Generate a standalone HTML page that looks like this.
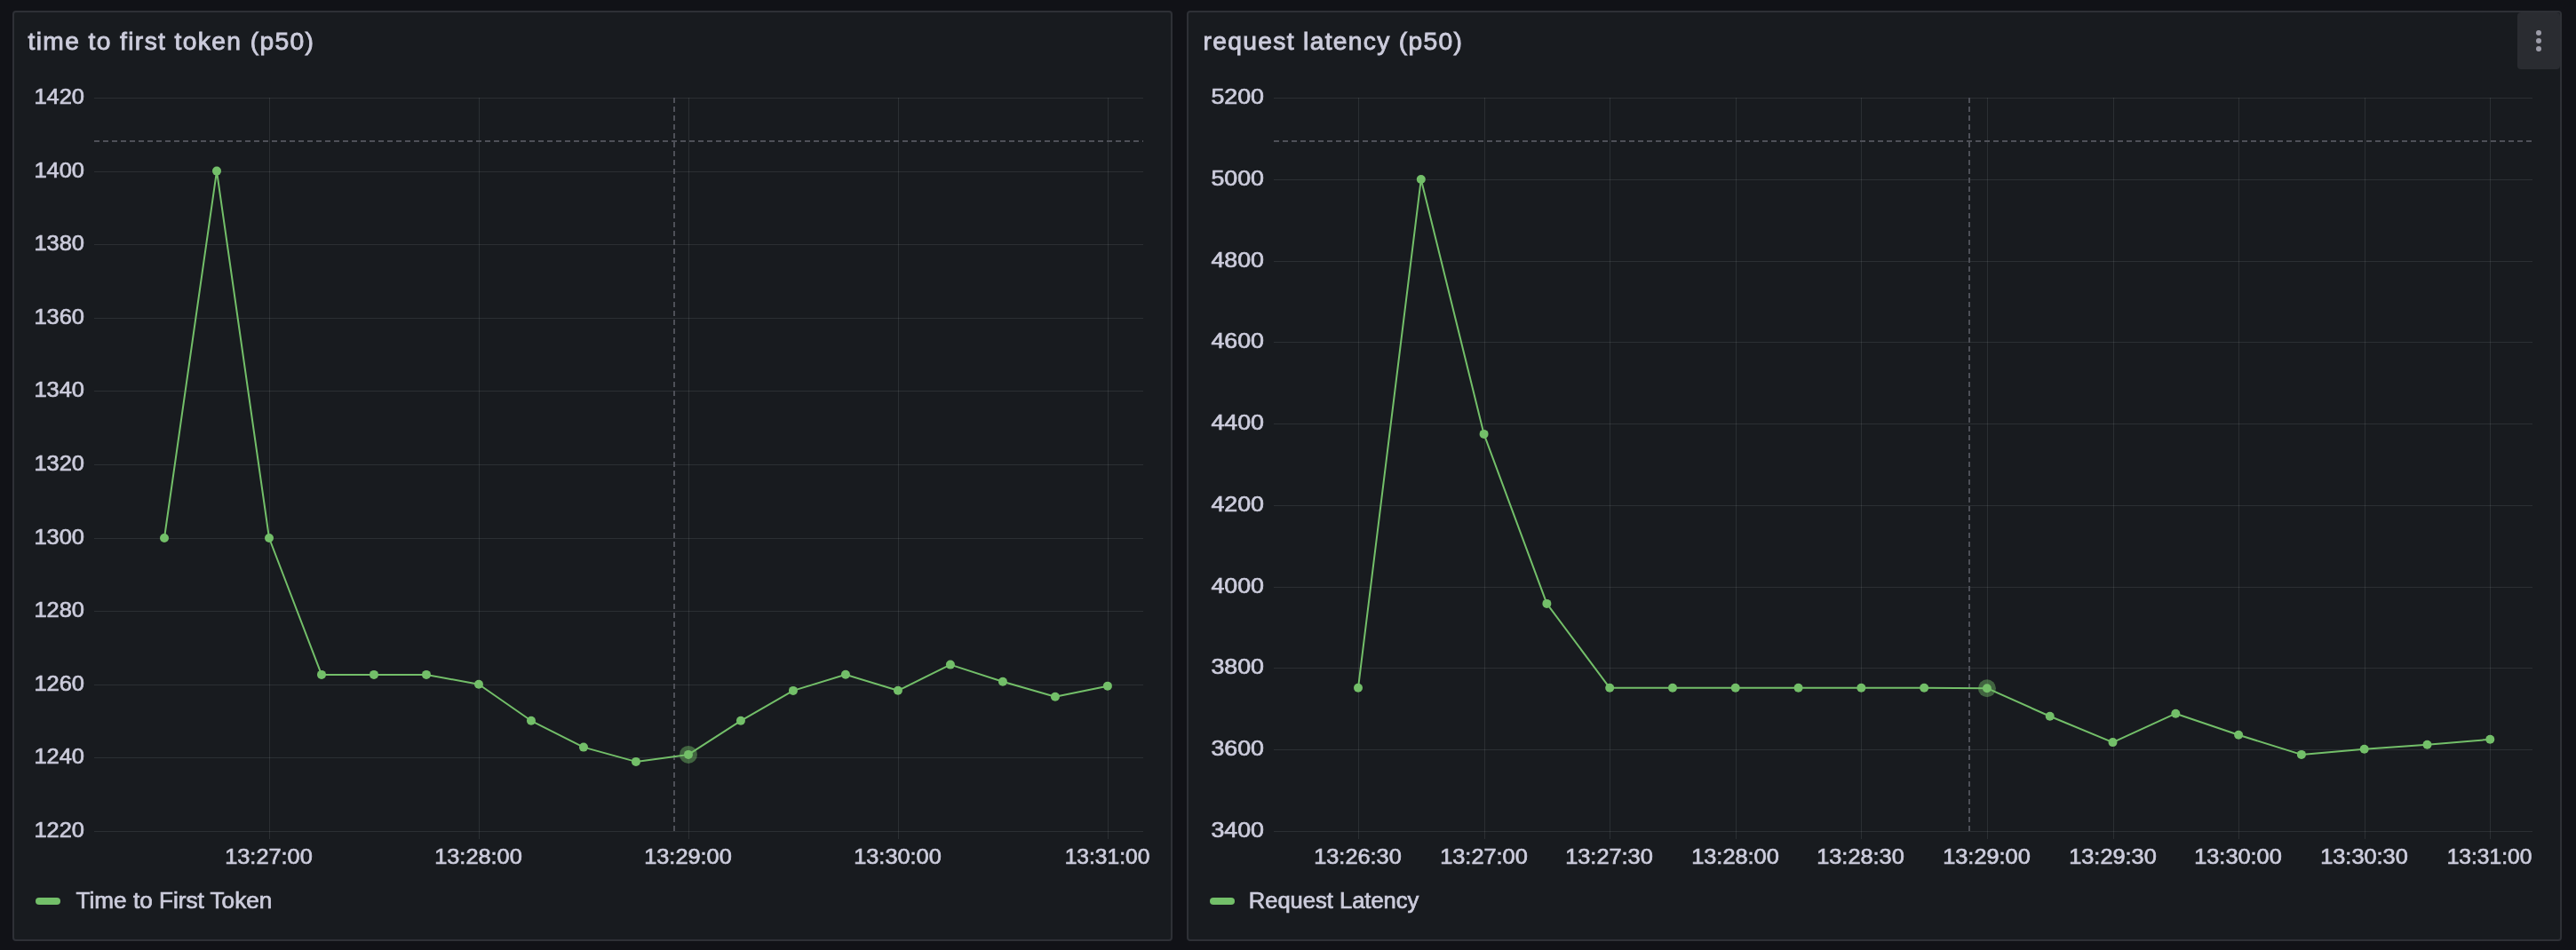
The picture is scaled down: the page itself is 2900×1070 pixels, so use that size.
<!DOCTYPE html><html><head><meta charset="utf-8"><style>
html,body{margin:0;padding:0;background:#111217;width:2900px;height:1070px;overflow:hidden;}
.p{position:absolute;box-sizing:border-box;background:#181b1f;border:2px solid #2e3036;border-radius:4px;}
svg{position:absolute;left:0;top:0;will-change:transform;}
text{font-family:"Liberation Sans", sans-serif;fill:#ccccdc;}
.ax{stroke:#ccccdc;stroke-width:0.7px;}
.tt{stroke:#ccccdc;stroke-width:0.9px;}
.menu{position:absolute;left:2834px;top:14px;width:48px;height:64px;background:#2a2c31;border-radius:4px;}
.dot{position:absolute;left:21px;width:6px;height:6px;border-radius:3px;background:#9c9ca8;}
</style></head><body>
<div class="p" style="left:14px;top:12px;width:1306px;height:1048px"></div>
<div class="p" style="left:1336px;top:12px;width:1548px;height:1048px"></div>
<div class="menu"><div class="dot" style="top:20px"></div><div class="dot" style="top:29px"></div><div class="dot" style="top:38px"></div></div>
<svg width="2900" height="1070" viewBox="0 0 2900 1070">
<path d="M106 110.5 H1287 M106 193.5 H1287 M106 275.5 H1287 M106 358.5 H1287 M106 440.5 H1287 M106 523.5 H1287 M106 606.5 H1287 M106 688.5 H1287 M106 771.5 H1287 M106 853.5 H1287 M106 936.5 H1287" stroke="rgba(240,250,255,0.09)" stroke-width="1" fill="none" shape-rendering="crispEdges"/>
<path d="M303.5 110 V945 M539.5 110 V945 M775.5 110 V945 M1011.5 110 V945 M1247.5 110 V945" stroke="rgba(240,250,255,0.09)" stroke-width="1" fill="none" shape-rendering="crispEdges"/>
<text class="ax" x="95" y="117.3" font-size="24.6" text-anchor="end" textLength="56.6" lengthAdjust="spacingAndGlyphs">1420</text>
<text class="ax" x="95" y="200.3" font-size="24.6" text-anchor="end" textLength="56.6" lengthAdjust="spacingAndGlyphs">1400</text>
<text class="ax" x="95" y="282.3" font-size="24.6" text-anchor="end" textLength="56.6" lengthAdjust="spacingAndGlyphs">1380</text>
<text class="ax" x="95" y="365.3" font-size="24.6" text-anchor="end" textLength="56.6" lengthAdjust="spacingAndGlyphs">1360</text>
<text class="ax" x="95" y="447.3" font-size="24.6" text-anchor="end" textLength="56.6" lengthAdjust="spacingAndGlyphs">1340</text>
<text class="ax" x="95" y="530.3" font-size="24.6" text-anchor="end" textLength="56.6" lengthAdjust="spacingAndGlyphs">1320</text>
<text class="ax" x="95" y="613.3" font-size="24.6" text-anchor="end" textLength="56.6" lengthAdjust="spacingAndGlyphs">1300</text>
<text class="ax" x="95" y="695.3" font-size="24.6" text-anchor="end" textLength="56.6" lengthAdjust="spacingAndGlyphs">1280</text>
<text class="ax" x="95" y="778.3" font-size="24.6" text-anchor="end" textLength="56.6" lengthAdjust="spacingAndGlyphs">1260</text>
<text class="ax" x="95" y="860.3" font-size="24.6" text-anchor="end" textLength="56.6" lengthAdjust="spacingAndGlyphs">1240</text>
<text class="ax" x="95" y="943.3" font-size="24.6" text-anchor="end" textLength="56.6" lengthAdjust="spacingAndGlyphs">1220</text>
<text class="ax" x="302.5" y="973" font-size="24.6" text-anchor="middle" textLength="98.6" lengthAdjust="spacingAndGlyphs">13:27:00</text>
<text class="ax" x="538.5" y="973" font-size="24.6" text-anchor="middle" textLength="98.6" lengthAdjust="spacingAndGlyphs">13:28:00</text>
<text class="ax" x="774.5" y="973" font-size="24.6" text-anchor="middle" textLength="98.6" lengthAdjust="spacingAndGlyphs">13:29:00</text>
<text class="ax" x="1010.5" y="973" font-size="24.6" text-anchor="middle" textLength="98.6" lengthAdjust="spacingAndGlyphs">13:30:00</text>
<text class="ax" x="1246.5" y="973" font-size="24.6" text-anchor="middle" textLength="95.6" lengthAdjust="spacingAndGlyphs">13:31:00</text>
<path d="M106 159 H1287" stroke="#4e5058" stroke-width="2" stroke-dasharray="6 4" fill="none"/>
<path d="M759 110 V936" stroke="#4e5058" stroke-width="2" stroke-dasharray="6 4" fill="none"/>
<path d="M185 606 L244 192.6 L302.99 606 L361.99 759.9 L420.98 759.9 L479.97 759.9 L538.97 770.8 L597.96 811.8 L656.96 841.6 L715.95 857.9 L774.95 849.9 L833.94 811.8 L892.94 777.9 L951.93 759.8 L1010.93 777.8 L1069.92 748.6 L1128.92 767.8 L1187.91 784.7 L1246.91 772.65" stroke="#73bf69" stroke-width="2" fill="none" stroke-linejoin="round"/>
<circle cx="185" cy="606" r="5" fill="#73bf69"/>
<circle cx="244" cy="192.6" r="5" fill="#73bf69"/>
<circle cx="302.99" cy="606" r="5" fill="#73bf69"/>
<circle cx="361.99" cy="759.9" r="5" fill="#73bf69"/>
<circle cx="420.98" cy="759.9" r="5" fill="#73bf69"/>
<circle cx="479.97" cy="759.9" r="5" fill="#73bf69"/>
<circle cx="538.97" cy="770.8" r="5" fill="#73bf69"/>
<circle cx="597.96" cy="811.8" r="5" fill="#73bf69"/>
<circle cx="656.96" cy="841.6" r="5" fill="#73bf69"/>
<circle cx="715.95" cy="857.9" r="5" fill="#73bf69"/>
<circle cx="774.95" cy="849.9" r="5" fill="#73bf69"/>
<circle cx="833.94" cy="811.8" r="5" fill="#73bf69"/>
<circle cx="892.94" cy="777.9" r="5" fill="#73bf69"/>
<circle cx="951.93" cy="759.8" r="5" fill="#73bf69"/>
<circle cx="1010.93" cy="777.8" r="5" fill="#73bf69"/>
<circle cx="1069.92" cy="748.6" r="5" fill="#73bf69"/>
<circle cx="1128.92" cy="767.8" r="5" fill="#73bf69"/>
<circle cx="1187.91" cy="784.7" r="5" fill="#73bf69"/>
<circle cx="1246.91" cy="772.65" r="5" fill="#73bf69"/>
<circle cx="774.95" cy="849.9" r="10" fill="#73bf69" fill-opacity="0.45"/>
<rect x="40" y="1011" width="28" height="8" rx="4" fill="#73bf69"/>
<text class="ax" x="85.5" y="1022.9" font-size="25" textLength="220.8" lengthAdjust="spacingAndGlyphs">Time to First Token</text>
<path d="M1434 110.5 H2851 M1434 202.5 H2851 M1434 294.5 H2851 M1434 385.5 H2851 M1434 477.5 H2851 M1434 569.5 H2851 M1434 661.5 H2851 M1434 752.5 H2851 M1434 844.5 H2851 M1434 936.5 H2851" stroke="rgba(240,250,255,0.09)" stroke-width="1" fill="none" shape-rendering="crispEdges"/>
<path d="M1529.5 110 V945 M1671.5 110 V945 M1812.5 110 V945 M1954.5 110 V945 M2095.5 110 V945 M2237.5 110 V945 M2379.5 110 V945 M2520.5 110 V945 M2662.5 110 V945 M2803.5 110 V945" stroke="rgba(240,250,255,0.09)" stroke-width="1" fill="none" shape-rendering="crispEdges"/>
<text class="ax" x="1423" y="117.3" font-size="24.6" text-anchor="end" textLength="59.6" lengthAdjust="spacingAndGlyphs">5200</text>
<text class="ax" x="1423" y="209.3" font-size="24.6" text-anchor="end" textLength="59.6" lengthAdjust="spacingAndGlyphs">5000</text>
<text class="ax" x="1423" y="301.3" font-size="24.6" text-anchor="end" textLength="59.6" lengthAdjust="spacingAndGlyphs">4800</text>
<text class="ax" x="1423" y="392.3" font-size="24.6" text-anchor="end" textLength="59.6" lengthAdjust="spacingAndGlyphs">4600</text>
<text class="ax" x="1423" y="484.3" font-size="24.6" text-anchor="end" textLength="59.6" lengthAdjust="spacingAndGlyphs">4400</text>
<text class="ax" x="1423" y="576.3" font-size="24.6" text-anchor="end" textLength="59.6" lengthAdjust="spacingAndGlyphs">4200</text>
<text class="ax" x="1423" y="668.3" font-size="24.6" text-anchor="end" textLength="59.6" lengthAdjust="spacingAndGlyphs">4000</text>
<text class="ax" x="1423" y="759.3" font-size="24.6" text-anchor="end" textLength="59.6" lengthAdjust="spacingAndGlyphs">3800</text>
<text class="ax" x="1423" y="851.3" font-size="24.6" text-anchor="end" textLength="59.6" lengthAdjust="spacingAndGlyphs">3600</text>
<text class="ax" x="1423" y="943.3" font-size="24.6" text-anchor="end" textLength="59.6" lengthAdjust="spacingAndGlyphs">3400</text>
<text class="ax" x="1528.5" y="973" font-size="24.6" text-anchor="middle" textLength="98.6" lengthAdjust="spacingAndGlyphs">13:26:30</text>
<text class="ax" x="1670.5" y="973" font-size="24.6" text-anchor="middle" textLength="98.6" lengthAdjust="spacingAndGlyphs">13:27:00</text>
<text class="ax" x="1811.5" y="973" font-size="24.6" text-anchor="middle" textLength="98.6" lengthAdjust="spacingAndGlyphs">13:27:30</text>
<text class="ax" x="1953.5" y="973" font-size="24.6" text-anchor="middle" textLength="98.6" lengthAdjust="spacingAndGlyphs">13:28:00</text>
<text class="ax" x="2094.5" y="973" font-size="24.6" text-anchor="middle" textLength="98.6" lengthAdjust="spacingAndGlyphs">13:28:30</text>
<text class="ax" x="2236.5" y="973" font-size="24.6" text-anchor="middle" textLength="98.6" lengthAdjust="spacingAndGlyphs">13:29:00</text>
<text class="ax" x="2378.5" y="973" font-size="24.6" text-anchor="middle" textLength="98.6" lengthAdjust="spacingAndGlyphs">13:29:30</text>
<text class="ax" x="2519.5" y="973" font-size="24.6" text-anchor="middle" textLength="98.6" lengthAdjust="spacingAndGlyphs">13:30:00</text>
<text class="ax" x="2661.5" y="973" font-size="24.6" text-anchor="middle" textLength="98.6" lengthAdjust="spacingAndGlyphs">13:30:30</text>
<text class="ax" x="2802.5" y="973" font-size="24.6" text-anchor="middle" textLength="95.6" lengthAdjust="spacingAndGlyphs">13:31:00</text>
<path d="M1434 159 H2851" stroke="#4e5058" stroke-width="2" stroke-dasharray="6 4" fill="none"/>
<path d="M2217 110 V936" stroke="#4e5058" stroke-width="2" stroke-dasharray="6 4" fill="none"/>
<path d="M1529 774.8 L1599.79 202 L1670.59 488.9 L1741.38 679.9 L1812.18 774.8 L1882.97 774.8 L1953.76 774.8 L2024.56 774.8 L2095.35 774.8 L2166.15 774.8 L2236.94 775.2 L2307.73 806.75 L2378.53 836.1 L2449.32 803.7 L2520.12 827.8 L2590.91 849.9 L2661.7 843.7 L2732.5 838.7 L2803.29 832.8" stroke="#73bf69" stroke-width="2" fill="none" stroke-linejoin="round"/>
<circle cx="1529" cy="774.8" r="5" fill="#73bf69"/>
<circle cx="1599.79" cy="202" r="5" fill="#73bf69"/>
<circle cx="1670.59" cy="488.9" r="5" fill="#73bf69"/>
<circle cx="1741.38" cy="679.9" r="5" fill="#73bf69"/>
<circle cx="1812.18" cy="774.8" r="5" fill="#73bf69"/>
<circle cx="1882.97" cy="774.8" r="5" fill="#73bf69"/>
<circle cx="1953.76" cy="774.8" r="5" fill="#73bf69"/>
<circle cx="2024.56" cy="774.8" r="5" fill="#73bf69"/>
<circle cx="2095.35" cy="774.8" r="5" fill="#73bf69"/>
<circle cx="2166.15" cy="774.8" r="5" fill="#73bf69"/>
<circle cx="2236.94" cy="775.2" r="5" fill="#73bf69"/>
<circle cx="2307.73" cy="806.75" r="5" fill="#73bf69"/>
<circle cx="2378.53" cy="836.1" r="5" fill="#73bf69"/>
<circle cx="2449.32" cy="803.7" r="5" fill="#73bf69"/>
<circle cx="2520.12" cy="827.8" r="5" fill="#73bf69"/>
<circle cx="2590.91" cy="849.9" r="5" fill="#73bf69"/>
<circle cx="2661.7" cy="843.7" r="5" fill="#73bf69"/>
<circle cx="2732.5" cy="838.7" r="5" fill="#73bf69"/>
<circle cx="2803.29" cy="832.8" r="5" fill="#73bf69"/>
<circle cx="2236.94" cy="775.2" r="10" fill="#73bf69" fill-opacity="0.45"/>
<rect x="1362" y="1011" width="28" height="8" rx="4" fill="#73bf69"/>
<text class="ax" x="1405.75" y="1022.9" font-size="25" textLength="191.6" lengthAdjust="spacingAndGlyphs">Request Latency</text>
<text class="tt" x="31.5" y="55.6" font-size="28.2" textLength="321.5" lengthAdjust="spacing">time to first token (p50)</text>
<text class="tt" x="1354.5" y="55.6" font-size="28.2" textLength="291.5" lengthAdjust="spacing">request latency (p50)</text>
</svg></body></html>
